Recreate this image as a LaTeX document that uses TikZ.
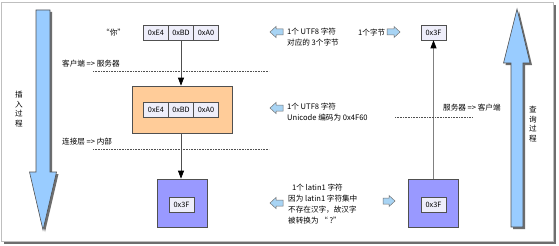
\documentclass[tikz,border=0pt]{standalone}
\usepackage{fontspec}
\setmainfont{Noto Sans CJK SC}
\usetikzlibrary{arrows.meta}
\definecolor{orangefill}{HTML}{FFCC99}
\definecolor{purplefill}{HTML}{9999FF}
\definecolor{cellfill}{HTML}{EEEEFA}
\definecolor{bigblue}{HTML}{99CCFF}
\definecolor{smallblue}{HTML}{A8D4F4}
\definecolor{linegray}{HTML}{505050}
\definecolor{shadowgray}{HTML}{6E6E6E}
\begin{document}
\begin{tikzpicture}[x=1pt,y=-1pt,
  cell/.style={draw=linegray, fill=cellfill, minimum width=25pt, minimum height=15pt, inner sep=0pt, line width=0.6pt, font=\fontsize{7.3}{8}\selectfont},
  orangebox/.style={draw=linegray, fill=orangefill, minimum width=100pt, minimum height=47pt, inner sep=0pt, line width=0.7pt},
  purplebox/.style={draw=linegray, fill=purplefill, minimum width=50pt, minimum height=48pt, inner sep=0pt, line width=0.7pt},
  lbl/.style={font=\fontsize{7.6}{11}\selectfont, inner sep=0pt, anchor=west, align=left},
  vlbl/.style={font=\fontsize{7.6}{9.5}\selectfont, inner sep=0pt, align=center},
  conn/.style={draw=linegray, line width=0.7pt, -{Triangle[length=8pt,width=6pt,color=black]}},
  dotline/.style={draw=linegray, line width=0.6pt, densely dotted},
  bigarrow/.style={draw=linegray, fill=bigblue, line width=0.6pt},
  bigshadow/.style={fill=shadowgray},
  blk/.style={draw=linegray!80, fill=smallblue, line width=0.5pt}
]
\useasboundingbox (0,0) rectangle (559,246);
% frame
\fill[shadowgray] (4,5) rectangle (556,244);
\draw[draw=gray!50, fill=white, line width=0.6pt] (1,2) rectangle (553,241);

% left big arrow (insert)
\fill[bigshadow, shift={(2,2)}] (36,10) -- (50,10) -- (50,172) -- (56.5,172) -- (43,230) -- (29.5,172) -- (36,172) -- cycle;
\draw[bigarrow] (36,10) -- (50,10) -- (50,172) -- (56.5,172) -- (43,230) -- (29.5,172) -- (36,172) -- cycle;
\node[vlbl] (ins) at (19,109) {插\\入\\过\\程};

% right big arrow (query)
\fill[bigshadow, shift={(2,2)}] (511,227) -- (523,227) -- (523,63) -- (530,63) -- (517,9) -- (503.5,63) -- (511,63) -- cycle;
\draw[bigarrow] (511,227) -- (523,227) -- (523,63) -- (530,63) -- (517,9) -- (503.5,63) -- (511,63) -- cycle;
\node[vlbl] (qry) at (533,124) {查\\询\\过\\程};

% left column
\node[lbl] (ni) at (102,33) {“你”};
\node[cell] (t1) at (156,32.5) {0xE4};
\node[cell] (t2) at (181,32.5) {0xBD};
\node[cell] (t3) at (206,32.5) {0xA0};

\node[lbl] (cs) at (62,64) {客户端 => 服务器};
\coordinate (d1a) at (93,71);
\coordinate (d1b) at (269,71);
\draw[dotline] (d1a) -- (d1b);

\node[orangebox] (ob) at (182,109.5) {};
\node[cell] (m1) at (156,109.5) {0xE4};
\node[cell] (m2) at (181,109.5) {0xBD};
\node[cell] (m3) at (206,109.5) {0xA0};

\node[lbl] (ci) at (62,142) {连接层 => 内部};
\coordinate (d2a) at (93,149);
\coordinate (d2b) at (269,149);
\draw[dotline] (d2a) -- (d2b);

\node[purplebox] (pl) at (182,203) {};
\node[cell] (pli) at (181.5,204.5) {0x3F};

\draw[conn] (t2.south) -- (t2.south |- ob.north);
\draw[conn] (ob.south -| t2.south) -- (t2.south |- pl.north);

% right column
\node[cell] (tr) at (433.5,32.5) {0x3F};
\node[purplebox] (pr) at (433,203) {};
\node[cell] (pri) at (433.5,204.5) {0x3F};
\draw[conn, draw=gray] (tr.south |- pr.north) -- (tr.south);

\node[lbl] (sc) at (443,108) {服务器 => 客户端};
\coordinate (d3a) at (395,117);
\coordinate (d3b) at (472,117);
\draw[dotline] (d3a) -- (d3b);

% annotations
\draw[blk] (270,32) -- (276,26.5) -- (276,29) -- (283,29) -- (283,35) -- (276,35) -- (276,37.5) -- cycle;
\node[lbl, anchor=north west] (a1) at (287,28) {1个 UTF8 字符\\对应的 3个字节};
\node[lbl] (a2) at (358,33) {1个字节};
\draw[blk] (400,32) -- (394,26.5) -- (394,29) -- (387,29) -- (387,35) -- (394,35) -- (394,37.5) -- cycle;

\draw[blk] (270,108) -- (276,102.5) -- (276,105) -- (283,105) -- (283,111) -- (276,111) -- (276,113.5) -- cycle;
\node[lbl, anchor=north west] (a3) at (287,103) {1个 UTF8 字符\\Unicode 编码为 0x4F60};

\draw[blk] (270,203) -- (276,197.5) -- (276,200) -- (283,200) -- (283,206) -- (276,206) -- (276,208.5) -- cycle;
\node[lbl, anchor=north west] (a4) at (288,184) {\hspace*{4pt}1个 latin1 字符\\因为 latin1 字符集中\\不存在汉字，故汉字\\被转换为 “ ?”};
\draw[blk] (395,201) -- (389,195.5) -- (389,198) -- (383,198) -- (383,204) -- (389,204) -- (389,206.5) -- cycle;
\end{tikzpicture}
\end{document}
